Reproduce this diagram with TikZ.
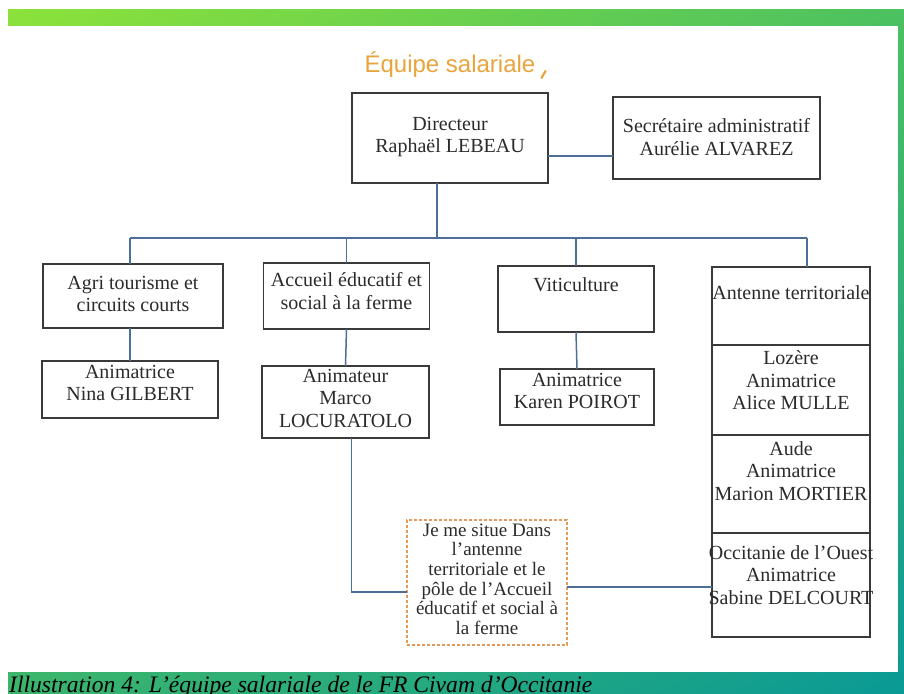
\documentclass[tikz,border=0pt]{standalone}
\usepackage{fontspec}
\usetikzlibrary{shadings}
\setmainfont{Liberation Serif}
\newfontfamily\titlefont{Liberation Sans}
\definecolor{connc}{HTML}{4D6E96}
\definecolor{boxc}{HTML}{3A3A3A}
\definecolor{txtc}{HTML}{2B2B2B}
\definecolor{titlec}{HTML}{E9A43C}
\definecolor{notec}{HTML}{E39A5B}
\definecolor{gUL}{RGB}{140,226,58}
\definecolor{gUR}{RGB}{76,193,96}
\definecolor{gLL}{RGB}{59,181,108}
\definecolor{gLR}{RGB}{10,154,150}
\tikzset{
  box/.style={draw=boxc, line width=1.8pt, fill=white, inner sep=0pt, outer sep=0pt},
  txt/.style={text=txtc, align=center, inner sep=0pt, font=\fontsize{20}{22.5}\selectfont},
  conn/.style={draw=connc, line width=1.5pt},
  notebox/.style={draw=notec, line width=1.3pt, dash pattern=on 3pt off 2pt, fill=white, inner sep=0pt, outer sep=0pt},
  notetxt/.style={text=txtc, align=center, inner sep=0pt, font=\fontsize{19}{19.6}\selectfont}
}
\begin{document}
\begin{tikzpicture}[x=1pt,y=-1pt]
\useasboundingbox (0,0) rectangle (904,693);
% frame
\shade[upper left=gUL, upper right=gUR, lower left=gLL, lower right=gLR] (8,10) rectangle (904,693);
\fill[white] (8,26) rectangle (898,672);
% title
\node[text=titlec, font=\titlefont\fontsize{24}{28}\selectfont, anchor=base, inner sep=0pt] (title) at (450,72) {Équipe salariale};
\draw[titlec, line width=2.2pt, line cap=round] (541.5,78) -- (545.5,71);
% boxes
\node[box, minimum width=196pt, minimum height=90pt] (dir) at (450,138) {};
\node[box, minimum width=207pt, minimum height=82pt] (sec) at (716.5,138) {};
\node[box, minimum width=180pt, minimum height=64pt] (agri) at (133,296) {};
\node[box, minimum width=176pt, minimum height=57pt] (nina) at (130,389.5) {};
\node[box, minimum width=166pt, minimum height=66pt] (accueil) at (346.5,296) {};
\node[box, minimum width=167pt, minimum height=72pt] (marco) at (345.5,402) {};
\node[box, minimum width=156pt, minimum height=66pt] (viti) at (576,299) {};
\node[box, minimum width=154pt, minimum height=56pt] (karen) at (577,397) {};
\node[box, minimum width=158pt, minimum height=78pt] (ant1) at (791,306) {};
\node[box, minimum width=158pt, minimum height=90pt] (ant2) at (791,390) {};
\node[box, minimum width=158pt, minimum height=98pt] (ant3) at (791,484) {};
\node[box, minimum width=158pt, minimum height=104pt] (ant4) at (791,585) {};
\node[notebox, minimum width=160pt, minimum height=125pt] (note) at (487,582.5) {};
% texts
\node[txt] (dirT) at (450,137) {Directeur\\Raphaël LEBEAU};
\node[txt] (secT) at (716.5,137) {Secrétaire administratif\\Aurélie ALVAREZ};
\node[txt] (agriT) at (133,294) {Agri tourisme et\\circuits courts};
\node[txt] (ninaT) at (130,383) {Animatrice\\Nina GILBERT};
\node[txt] (accueilT) at (346.5,291) {Accueil éducatif et\\social à la ferme};
\node[txt] (marcoT) at (345.5,398) {Animateur\\Marco\\LOCURATOLO};
\node[txt] (vitiT) at (576,285) {Viticulture};
\node[txt] (karenT) at (577,391) {Animatrice\\Karen POIROT};
\node[txt] (ant1T) at (791,293) {Antenne territoriale};
\node[txt] (ant2T) at (791,380.5) {Lozère\\Animatrice\\Alice MULLE};
\node[txt] (ant3T) at (791,471) {Aude\\Animatrice\\Marion MORTIER};
\node[txt] (ant4T) at (791,575) {Occitanie de l’Ouest\\Animatrice\\Sabine DELCOURT};
\node[notetxt] (noteT) at (487,579) {Je me situe Dans\\l’antenne\\territoriale et le\\pôle de l’Accueil\\éducatif et social à\\la ferme};
% connectors
\coordinate (busL) at (130,238);
\coordinate (busR) at (807,238);
\draw[conn] ([yshift=-18pt]dir.east) -- ([yshift=-18pt]sec.west);
\draw[conn] ([xshift=-13pt]dir.south) -- ([xshift=-13pt]dir.south |- busL);
\draw[conn] (busL) -- (busR);
\draw[conn] (busL) -- (busL |- agri.north);
\draw[conn] (accueil.north |- busL) -- (accueil.north);
\draw[conn] (viti.north |- busL) -- (viti.north);
\draw[conn] (busR) -- (busR |- ant1.north);
\draw[conn] (busL |- agri.south) -- (busL |- nina.north);
\draw[conn] (accueil.south) -- (marco.north);
\draw[conn] (viti.south) -- (karen.north);
\draw[conn] ([xshift=6pt]marco.south) |- ([yshift=-9.5pt]note.west);
\draw[conn] ([yshift=-4.5pt]note.east) -- ([yshift=-4.5pt]note.east -| ant4.west);
% caption
\node[anchor=base west, inner sep=0pt, text=black, font=\itshape\fontsize{23.6}{26}\selectfont] (caption) at (9,692) {Illustration 4: L'équipe salariale de le FR Civam d'Occitanie};
\end{tikzpicture}
\end{document}
